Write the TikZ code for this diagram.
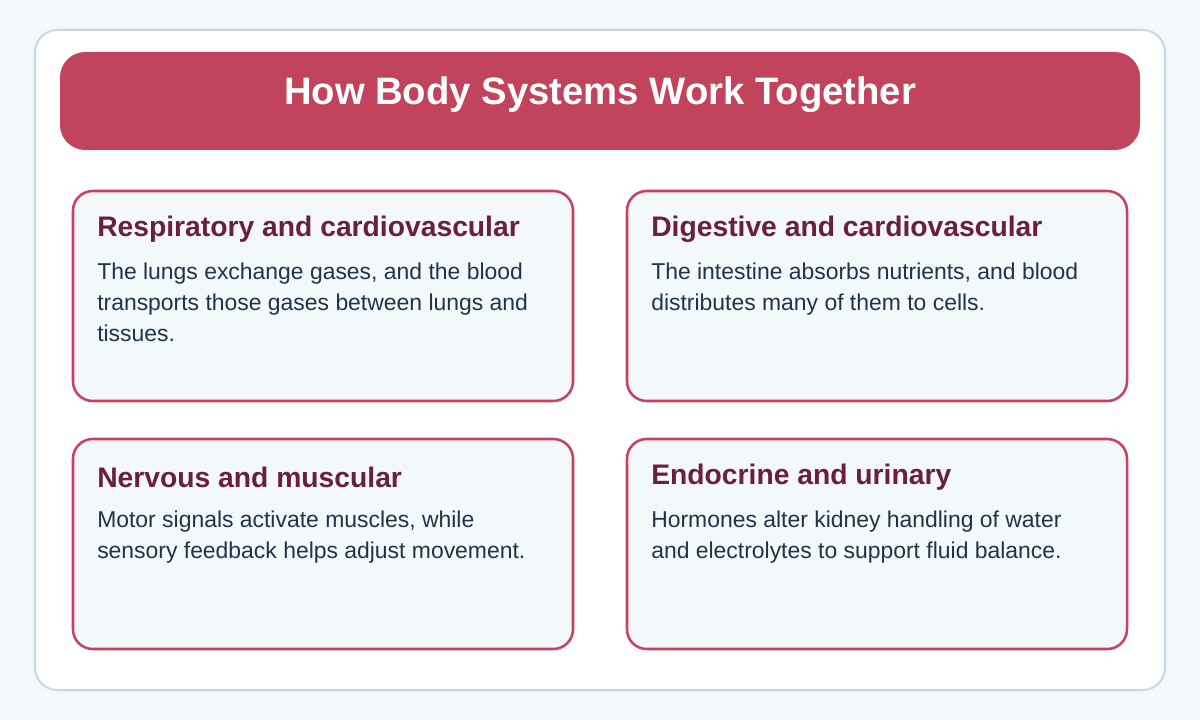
\documentclass[tikz,border=0pt]{standalone}
\usepackage{fontspec}
\setmainfont{Liberation Sans}
\usetikzlibrary{positioning}
\definecolor{pagebg}{HTML}{F5F9FB}
\definecolor{panelline}{HTML}{C9D9E3}
\definecolor{titlered}{HTML}{C2435C}
\definecolor{cardfill}{HTML}{F3F8FB}
\definecolor{cardline}{HTML}{C8415E}
\definecolor{headtext}{HTML}{6B1F3A}
\definecolor{bodytext}{HTML}{1F3349}
\tikzset{
  card/.style={draw=cardline, line width=1.8pt, fill=cardfill, rounded corners=14pt},
  head/.style={anchor=west, text=headtext, font=\bfseries\fontsize{20.1}{24}\selectfont, inner sep=0pt},
  body/.style={anchor=north west, text=bodytext, font=\fontsize{16.3}{22}\selectfont, align=left, inner sep=0pt},
}
\begin{document}
\begin{tikzpicture}[x=0.025cm,y=-0.025cm]
\useasboundingbox[fill=pagebg] (0,0) rectangle (1200,720);
\draw[draw=panelline, line width=1.5pt, fill=white, rounded corners=16pt] (35,30) rectangle (1165,690);
\fill[titlered, rounded corners=18pt] (60,52) rectangle (1140,150);
\node[text=white, font=\bfseries\fontsize{27.2}{32}\selectfont] (title) at (600,95) {How Body Systems Work Together};
% cards
\draw[card] (73,191) rectangle (573,401);
\draw[card] (627,191) rectangle (1127,401);
\draw[card] (73,439) rectangle (573,649);
\draw[card] (627,439) rectangle (1127,649);
\node[head] (h1) at (97,229) {Respiratory and cardiovascular};
\node[body] (b1) at (97,263) {The lungs exchange gases, and the blood\\transports those gases between lungs and\\tissues.};
\node[head] (h2) at (651,229) {Digestive and cardiovascular};
\node[body] (b2) at (651,263) {The intestine absorbs nutrients, and blood\\distributes many of them to cells.};
\node[head] (h3) at (97,477) {Nervous and muscular};
\node[body] (b3) at (97,511) {Motor signals activate muscles, while\\sensory feedback helps adjust movement.};
\node[head] (h4) at (651,477) {Endocrine and urinary};
\node[body] (b4) at (651,511) {Hormones alter kidney handling of water\\and electrolytes to support fluid balance.};
\end{tikzpicture}
\end{document}
